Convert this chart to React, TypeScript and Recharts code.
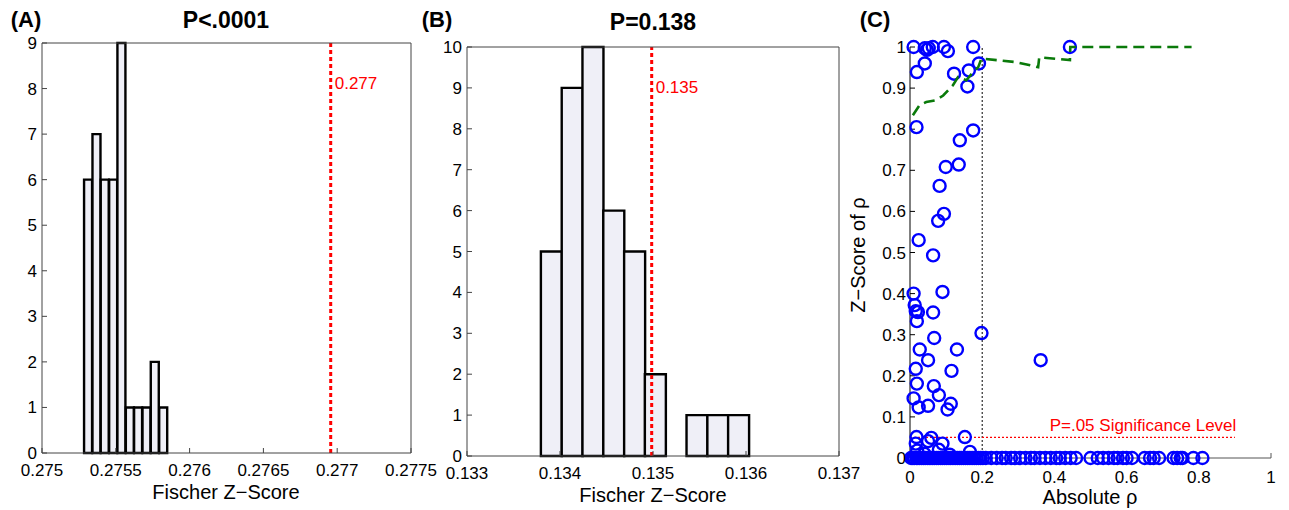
import React from "react";
import {
  BarChart,
  Bar,
  XAxis,
  YAxis,
  ScatterChart,
  Scatter,
  ReferenceLine,
} from "recharts";

const FONT = '"Liberation Sans", Arial, Helvetica, sans-serif';

// panel A histogram
const histABins = [0.275313, 0.27537, 0.275426, 0.275483, 0.275539, 0.275596, 0.275652, 0.275709, 0.275765, 0.275822];
const histACounts = [6, 7, 6, 6, 9, 1, 1, 1, 2, 1];
const histATicks = [0.275, 0.2755, 0.276, 0.2765, 0.277, 0.2775];
const histAYTicks = [0, 1, 2, 3, 4, 5, 6, 7, 8, 9];
const histAObserved = 0.276956;

// panel B histogram
const histBBins = [0.133906, 0.13413, 0.134353, 0.134577, 0.134801, 0.135024, 0.135248, 0.135472, 0.135696, 0.135919];
const histBCounts = [5, 9, 10, 6, 5, 2, 0, 1, 1, 1];
const histBTicks = [0.133, 0.134, 0.135, 0.136, 0.137];
const histBYTicks = [0, 1, 2, 3, 4, 5, 6, 7, 8, 9, 10];
const histBObserved = 0.134986;

// panel C scatter
const rhoX = [
  0.01, 0.041, 0.047, 0.052, 0.063, 0.094, 0.105, 0.175, 0.443,
  0.019, 0.041, 0.018, 0.122, 0.163, 0.159, 0.191, 0.175, 0.138, 0.135, 0.099, 0.082, 0.094, 0.078, 0.024, 0.064,
  0.01, 0.09, 0.013, 0.016, 0.022, 0.064, 0.019, 0.067, 0.198, 0.027, 0.13, 0.05, 0.362, 0.016, 0.115, 0.019, 0.066,
  0.08, 0.01, 0.024, 0.05, 0.113, 0.104,
  0.152, 0.018, 0.059, 0.016, 0.05, 0.09, 0.166, 0.02, 0.08, 0.04, 0.11,
];
const rhoZ = [
  1.0, 0.997, 0.993, 0.997, 1.0, 1.0, 0.99, 1.0, 1.0,
  0.939, 0.96, 0.805, 0.935, 0.943, 0.904, 0.96, 0.797, 0.773, 0.714, 0.708, 0.662, 0.594, 0.577, 0.53, 0.493,
  0.4, 0.404, 0.372, 0.357, 0.355, 0.354, 0.333, 0.292, 0.304, 0.264, 0.264, 0.238, 0.238, 0.217, 0.212, 0.181, 0.175,
  0.153, 0.145, 0.123, 0.127, 0.132, 0.118,
  0.051, 0.051, 0.049, 0.035, 0.041, 0.035, 0.015, 0.018, 0.02, 0.01, 0.008,
];
const zeroRowX = [
  0.003, 0.008, 0.012, 0.018, 0.022, 0.027, 0.032, 0.037, 0.042, 0.048, 0.053, 0.058, 0.063, 0.068,
  0.074, 0.079, 0.085, 0.09, 0.096, 0.102, 0.108, 0.113, 0.119, 0.125, 0.131, 0.137, 0.142, 0.148,
  0.154, 0.16, 0.166, 0.172, 0.178, 0.184, 0.19, 0.196, 0.202, 0.21, 0.225, 0.24, 0.255, 0.265, 0.28,
  0.29, 0.305, 0.32, 0.335, 0.345, 0.36, 0.375, 0.39, 0.405, 0.415, 0.43, 0.445, 0.46, 0.5, 0.52,
  0.535, 0.55, 0.565, 0.575, 0.59, 0.6, 0.615, 0.65, 0.665, 0.675, 0.69, 0.73, 0.74, 0.75, 0.755,
  0.785, 0.81,
];
const curveX = [0.008, 0.027, 0.045, 0.069, 0.092, 0.119, 0.133, 0.156, 0.175, 0.189, 0.198, 0.24, 0.295, 0.355, 0.358, 0.443, 0.444, 0.78];
const curveZ = [0.834, 0.859, 0.866, 0.87, 0.882, 0.907, 0.927, 0.919, 0.939, 0.951, 0.972, 0.968, 0.963, 0.951, 0.975, 0.968, 1.0, 1.0];
const sigLineX = [0, 0.9];
const sigLevel = 0.05;
const rhoCutoff = 0.2;
const rhoXTicks = [0, 0.2, 0.4, 0.6, 0.8, 1];
const rhoYTicks = [0, 0.1, 0.2, 0.3, 0.4, 0.5, 0.6, 0.7, 0.8, 0.9, 1];

const tickStyle = { fill: "#000", fontSize: 17, fontFamily: FONT };
const axisColor = "#444";

const Txt = ({ x, y, size, bold, color, rotate, children }: any) => (
  <div
    style={{
      position: "absolute",
      left: x,
      top: y,
      transform: `translate(-50%, -50%)${rotate ? " rotate(-90deg)" : ""}`,
      fontFamily: FONT,
      fontSize: size,
      fontWeight: bold ? 700 : 400,
      color: color || "#000",
      whiteSpace: "nowrap",
      lineHeight: 1,
    }}
  >
    {children}
  </div>
);

const Histogram = ({ left, margin, yWidth, bins, counts, xTicks, yTicks, observed, labelDy }: any) => {
  const data = bins.map((x: number, i: number) => ({ x, count: counts[i] }));
  const xDomain = [xTicks[0], xTicks[xTicks.length - 1]];
  const yDomain = [0, yTicks[yTicks.length - 1]];
  return (
    <div style={{ position: "absolute", left, top: 0 }}>
      <BarChart width={450} height={510} data={data} margin={margin} barCategoryGap={0} barGap={0}>
        <XAxis
          dataKey="x"
          type="number"
          domain={xDomain}
          ticks={xTicks}
          tickFormatter={(v: number) => String(v)}
          tick={tickStyle}
          fontSize={17}
          fontFamily={FONT}
          tickSize={-5}
          tickMargin={16}
          height={40}
          stroke={axisColor}
          interval={0}
        />
        <XAxis
          xAxisId="top"
          orientation="top"
          type="number"
          domain={xDomain}
          ticks={xTicks}
          tick={false}
          tickSize={-5}
          height={1}
          stroke={axisColor}
        />
        <YAxis
          type="number"
          domain={yDomain}
          ticks={yTicks}
          tick={tickStyle}
          fontSize={17}
          fontFamily={FONT}
          tickSize={-5}
          tickMargin={10}
          width={yWidth}
          stroke={axisColor}
          interval={0}
        />
        <YAxis
          yAxisId="right"
          orientation="right"
          type="number"
          domain={yDomain}
          ticks={yTicks}
          tick={false}
          tickSize={-5}
          width={1}
          stroke={axisColor}
        />
        <Bar dataKey="count" fill="#efeff7" stroke="#000" strokeWidth={2.4} isAnimationActive={false} />
        <ReferenceLine
          x={observed}
          stroke="#ff0000"
          strokeWidth={3}
          strokeDasharray="4 3"
          label={({ viewBox }: any) => (
            <text x={viewBox.x + 4} y={viewBox.y + labelDy} fill="#ff0000" fontSize={17} fontFamily={FONT}>
              {observed.toFixed(3)}
            </text>
          )}
        />
      </BarChart>
    </div>
  );
};

const Ring = (props: any) => {
  const { cx, cy } = props;
  if (cx == null || cy == null) return null;
  return <circle cx={cx} cy={cy} r={6} fill="none" stroke="#0000ff" strokeWidth={2.4} />;
};

const NoShape = () => null;

export default function App() {
  const points = rhoX.map((x, i) => ({ x, y: rhoZ[i] }));
  const zeroRow = zeroRowX.map((x) => ({ x, y: 0 }));
  const curve = curveX.map((x, i) => ({ x, y: curveZ[i] }));
  const sigLine = sigLineX.map((x) => ({ x, y: sigLevel }));

  return (
    <div style={{ position: "absolute", left: 0, top: 0, width: 1289, height: 510, background: "#fff", overflow: "hidden" }}>
      <Histogram
        left={0}
        margin={{ top: 42, right: 38, bottom: 17, left: 8 }}
        yWidth={34}
        bins={histABins}
        counts={histACounts}
        xTicks={histATicks}
        yTicks={histAYTicks}
        observed={histAObserved}
        labelDy={46}
      />
      <Histogram
        left={420}
        margin={{ top: 46, right: 30, bottom: 14, left: 10 }}
        yWidth={37}
        bins={histBBins}
        counts={histBCounts}
        xTicks={histBTicks}
        yTicks={histBYTicks}
        observed={histBObserved}
        labelDy={46}
      />

      <div style={{ position: "absolute", left: 840, top: 0 }}>
        <ScatterChart width={449} height={510} margin={{ top: 47, right: 18, bottom: 12, left: 25 }}>
          <XAxis
            dataKey="x"
            type="number"
            domain={[0, 1]}
            ticks={rhoXTicks}
            tickFormatter={(v: number) => String(v)}
            tick={tickStyle}
            fontSize={17}
            fontFamily={FONT}
            tickSize={-5}
            tickMargin={18}
            height={40}
            stroke="#555"
            interval={0}
          />
          <YAxis
            dataKey="y"
            type="number"
            domain={[0, 1]}
            ticks={rhoYTicks}
            tickFormatter={(v: number) => String(v)}
            tick={tickStyle}
            fontSize={17}
            fontFamily={FONT}
            tickSize={-5}
            tickMargin={9}
            width={45}
            stroke="#000"
            interval={0}
          />
          <ReferenceLine x={rhoCutoff} stroke="#000" strokeWidth={1} strokeDasharray="2 2" />
          <Scatter
            data={sigLine}
            shape={NoShape}
            line={{ stroke: "#ff0000", strokeWidth: 1.2, strokeDasharray: "2 2" }}
            lineType="joint"
            isAnimationActive={false}
          />
          <Scatter data={zeroRow} shape={Ring} isAnimationActive={false} />
          <Scatter data={points} shape={Ring} isAnimationActive={false} />
          <Scatter
            data={curve}
            shape={NoShape}
            line={{ stroke: "#0a7a0a", strokeWidth: 2.6, strokeDasharray: "11 6" }}
            lineType="joint"
            isAnimationActive={false}
          />
        </ScatterChart>
      </div>

      <Txt x={26} y={20} size={22} bold>(A)</Txt>
      <Txt x={226} y={20} size={23} bold>P&lt;.0001</Txt>
      <Txt x={226} y={492} size={20}>Fischer Z−Score</Txt>

      <Txt x={437} y={20} size={22} bold>(B)</Txt>
      <Txt x={653} y={22} size={23} bold>P=0.138</Txt>
      <Txt x={653} y={495} size={20}>Fischer Z−Score</Txt>

      <Txt x={875} y={20} size={22} bold>(C)</Txt>
      <Txt x={858} y={255} size={20} rotate>Z−Score of ρ</Txt>
      <Txt x={1090} y={497} size={20}>Absolute ρ</Txt>
      <Txt x={1143} y={425} size={17} color="#ff0000">P=.05 Significance Level</Txt>
    </div>
  );
}
